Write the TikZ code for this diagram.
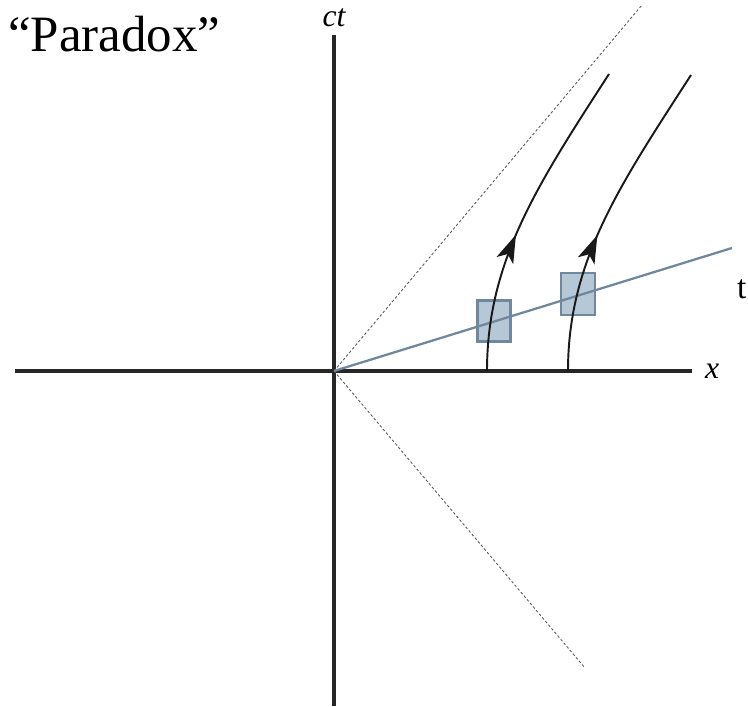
\documentclass[tikz,border=0pt]{standalone}
\usepackage{fontspec}
\setmainfont{Liberation Serif}
\usetikzlibrary{arrows.meta,decorations.markings}
\definecolor{tblue}{RGB}{112,136,158}
\definecolor{tfill}{RGB}{182,199,213}
\tikzset{
  axline/.style={line width=2.2pt, draw=black!85!white},
  cone/.style={line width=0.5pt, draw=black!65!white, dash pattern=on 1.5pt off 1.2pt},
  tline/.style={line width=1.3pt, draw=tblue},
  clock/.style={draw=tblue, fill=tfill, line width=1.2pt, minimum width=0.66cm, minimum height=0.82cm, inner sep=0pt},
  wline/.style={line width=1.1pt, draw=black!90!white,
    postaction={decorate, decoration={markings,
      mark=at position 0.43 with {\arrow{Stealth[length=5.6mm,width=3.6mm,inset=1.4mm]}}}}},
  lbl/.style={font=\fontsize{18}{20}\selectfont\itshape},
  ttl/.style={font=\fontsize{29}{32}\selectfont},
}

\begin{document}
\begin{tikzpicture}
\useasboundingbox (-6.68,-6.70) rectangle (8.28,7.42);
% axes
\coordinate (O) at (0,0);
\coordinate (xl) at (-6.38,0);
\coordinate (xr) at (7.16,0);
\coordinate (yb) at (0,-6.70);
\coordinate (yt) at (0,6.72);
\draw[axline] (xl) -- (xr);
\draw[axline] (yb) -- (yt);
\node[lbl] (ctlab) at (0,7.06) {ct};
\node[lbl, anchor=west] (xlab) at (7.3,0) {x};
% light cone
\coordinate (cu) at (6.16,7.32);
\coordinate (cd) at (5.02,-5.94);
\draw[cone] (O) -- (cu);
\draw[cone] (O) -- (cd);
% clocks
\node[clock] (box1) at (3.2,1.0) {};
\node[clock, minimum width=0.68cm, minimum height=0.84cm] (box2) at (4.88,1.54) {};
% moving frame
\coordinate (te) at (7.96,2.46);
\draw[tline] (O) -- (te);
\node[anchor=base west, font=\fontsize{19}{20}\selectfont] (tlab) at (7.94,1.44) {t};
% world lines
\coordinate (w1s) at (3.06,0);
\coordinate (w1e) at (5.5,5.94);
\coordinate (w2s) at (4.68,0);
\coordinate (w2e) at (7.14,5.92);
\draw[wline] (w1s) .. controls +(0,2.2) and +(-1.42,-2.2) .. (w1e);
\draw[wline] (w2s) .. controls +(0,2.2) and +(-1.42,-2.2) .. (w2e);
% title
\node[ttl, anchor=base west] (title) at (-6.64,6.38) {“Paradox”};
\end{tikzpicture}
\end{document}
